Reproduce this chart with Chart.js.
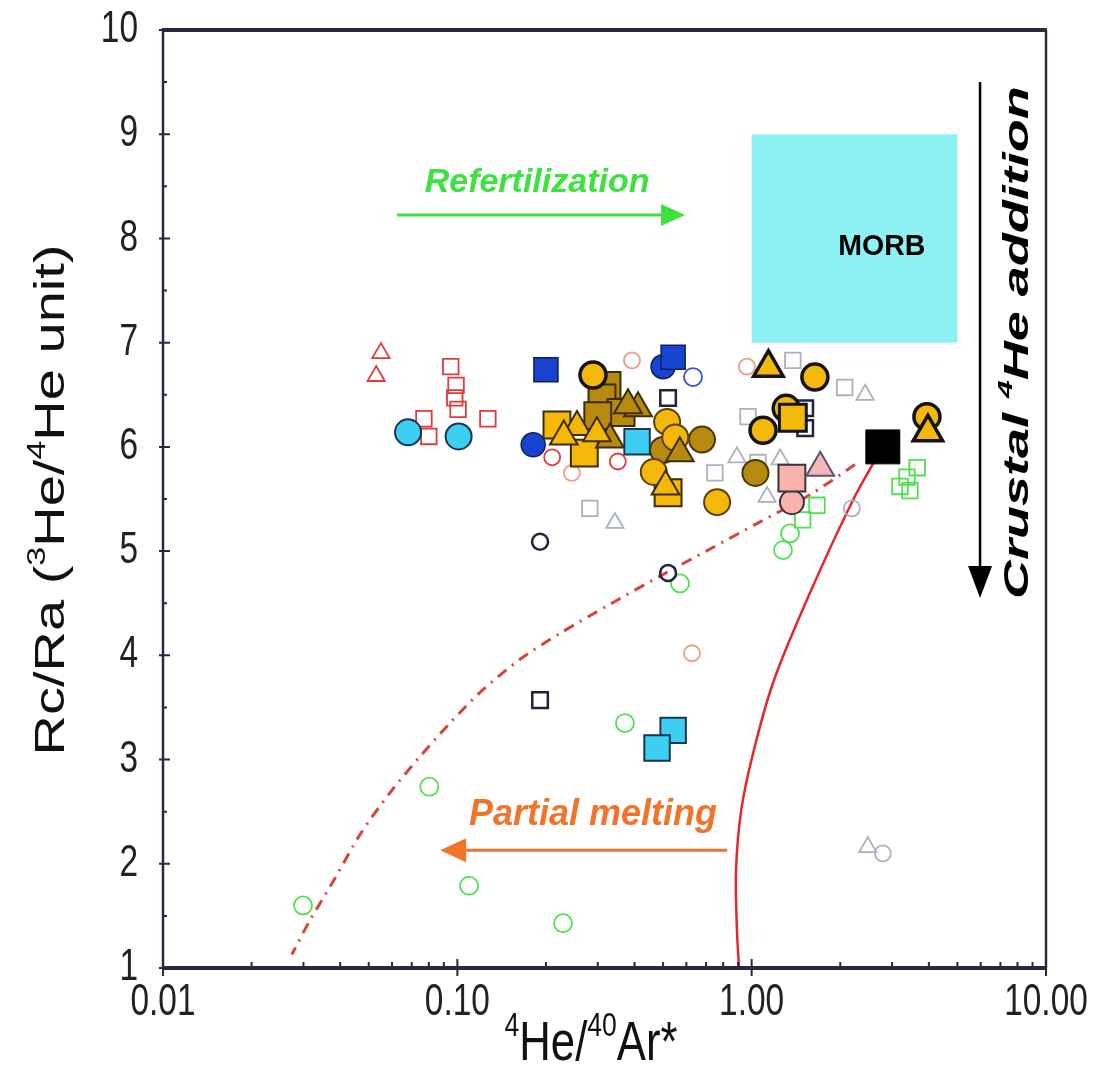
<!DOCTYPE html>
<html>
<head>
<meta charset="utf-8">
<script src="https://cdn.jsdelivr.net/npm/chart.js@4.4.1/dist/chart.umd.min.js"></script>
<style>
  html, body { margin: 0; padding: 0; background: #fff; }
</style>
</head>
<body>
<canvas id="chart" width="1106" height="1078"></canvas>
<script>
// axes
const xTicks = [0.01, 0.1, 1, 10];
const yTicks = [1, 2, 3, 4, 5, 6, 7, 8, 9, 10];

// MORB field: [xMin, xMax, yMin, yMax]
const morbBox = [1, 5, 7, 9];

// samples, [4He/40Ar*, Rc/Ra]
const redTriangles = [[0.055, 6.90], [0.053, 6.68]];
const redSquares = [[0.095, 6.77], [0.099, 6.59], [0.098, 6.47], [0.1006, 6.36], [0.127, 6.27], [0.077, 6.27], [0.080, 6.10]];
const redCircles = [[0.21, 5.90], [0.351, 5.86]];
const salmonCircles = [[0.392, 6.83], [0.245, 5.75], [0.627, 4.02], [0.964, 6.77]];
const greenCircles = [[0.0299, 1.60], [0.0803, 2.74], [0.1096, 1.79], [0.2286, 1.43], [0.371, 3.35], [0.571, 4.69], [1.278, 5.01], [1.35, 5.17]];
const greenSquares = [[1.49, 5.30], [1.667, 5.44], [3.37, 5.71], [3.65, 5.80], [3.19, 5.62], [3.45, 5.58]];
const grayCircles = [[2.19, 5.41], [2.79, 2.10]];
const graySquares = [[0.282, 5.41], [0.972, 6.29], [0.75, 5.75], [1.38, 6.83], [2.07, 6.57], [1.05, 5.85]];
const grayTriangles = [[0.343, 5.27], [2.43, 6.50], [2.48, 2.16], [0.891, 5.90], [1.128, 5.52], [1.25, 5.88]];
const navyCircles = [[0.191, 5.09], [0.52, 4.79]];
const navySquares = [[0.191, 3.57], [0.52, 6.47], [1.52, 6.37], [1.52, 6.18]];
const blueOpenCircles = [[0.632, 6.67]];
const blueCircles = [[0.181, 6.02], [0.50, 6.77]];
const blueSquares = [[0.20, 6.74], [0.541, 6.86]];
const cyanCircles = [[0.068, 6.14], [0.101, 6.10]];
const cyanSquares = [[0.408, 6.05], [0.541, 3.28], [0.477, 3.11]];
const yellowCircles = [[0.516, 6.24], [0.55, 6.09], [0.465, 5.76], [0.763, 5.47]];
const yellowSquares = [[0.218, 6.21], [0.27, 5.94], [0.52, 5.56]];
const yellowTriangles = [[0.255, 6.19], [0.298, 6.13], [0.51, 5.62], [0.23, 6.10]];
const goldCircles = [[0.678, 6.07], [0.50, 5.97], [1.03, 5.75]];
const goldSquares = [[0.3225, 6.59], [0.31, 6.47], [0.36, 6.33], [0.30, 6.30]];
const goldTriangles = [[0.411, 6.37], [0.33, 6.07], [0.57, 5.94], [0.38, 6.40]];
const boldCircles = [[0.289, 6.69], [1.64, 6.67], [1.093, 6.16], [3.94, 6.29], [1.31, 6.37]];
const boldSquares = [[1.38, 6.28]];
const boldTriangles = [[1.14, 6.76], [3.97, 6.14]];
const pinkSquares = [[1.37, 5.70]];
const pinkCircles = [[1.37, 5.47]];
const pinkTriangles = [[1.71, 5.80]];
const endMember = [[2.79, 6.0]];

// model curves
const crustalCurve = [[2.79, 6.0], [2.21, 5.49], [1.54, 4.53], [1.18, 3.73], [1.003, 3.02], [0.920, 2.50], [0.885, 1.94], [0.891, 1.37], [0.906, 1.0]];
const meltingCurve = [[2.244, 5.83], [1.578, 5.54], [1.067, 5.28], [0.722, 5.02], [0.488, 4.76], [0.330, 4.49], [0.223, 4.21],
  [0.163, 3.96], [0.119, 3.64], [0.0944, 3.35], [0.0747, 3.03], [0.059, 2.68], [0.0467, 2.28], [0.0384, 1.86], [0.0316, 1.46], [0.0274, 1.13]];

// arrows and labels, in data units
const referArrow = [0.0624, 0.594, 8.225];
const referLabel = [0.1866, 8.54];
const meltArrow = [0.825, 0.0874, 2.13];
const meltLabel = [0.289, 2.47];
const crustArrow = [5.97, 9.50, 4.55];
const crustLabel = [8.04, 7.0];
const morbLabel = [2.77, 7.92];

const FONT = "'Liberation Sans', Arial, sans-serif";
const pts = arr => arr.map(([x, y]) => ({ x, y }));

function markers(data, style, r, fill, stroke, width) {
  return {
    data: pts(data),
    pointStyle: style,
    pointRadius: r,
    pointBackgroundColor: fill,
    pointBorderColor: stroke,
    pointBorderWidth: width,
    showLine: false
  };
}

const YEL = '#f3b80a', GOLD = '#b8890f', EDGE = '#3d2c06', INK = '#141414';

const datasets = [
  markers(endMember, 'rect', 24, '#000', '#000', 1),
  markers(boldTriangles, 'triangle', 17, YEL, INK, 3.5),
  markers(boldSquares, 'rect', 19, YEL, INK, 3),
  markers(boldCircles, 'circle', 13, YEL, INK, 3.5),
  markers(cyanSquares, 'rect', 18, '#3ccff2', '#1d3550', 2),
  markers(yellowTriangles, 'triangle', 16, YEL, EDGE, 2),
  markers(goldTriangles, 'triangle', 16, GOLD, EDGE, 2),
  markers(yellowCircles, 'circle', 13, YEL, '#5a4210', 2),
  markers(goldCircles, 'circle', 13, GOLD, '#4a3608', 2),
  markers(yellowSquares, 'rect', 19, YEL, EDGE, 2),
  markers(goldSquares, 'rect', 19, GOLD, EDGE, 2),
  markers(blueSquares, 'rect', 17, '#1743d0', '#10205a', 1.5),
  markers(blueCircles, 'circle', 12, '#1743d0', '#10205a', 1.5),
  markers(pinkTriangles, 'triangle', 16, '#f3b9b9', '#605070', 2),
  markers(pinkSquares, 'rect', 19, '#f7b3a9', '#3a3040', 2),
  markers(pinkCircles, 'circle', 12, '#f7b3a9', '#3a3040', 2),
  markers(cyanCircles, 'circle', 13, '#3ccff2', '#1d3550', 2),
  markers(navySquares, 'rect', 11, 'rgba(0,0,0,0)', '#22223c', 2.5),
  markers(navyCircles, 'circle', 8, 'rgba(0,0,0,0)', '#22223c', 2.5),
  markers(blueOpenCircles, 'circle', 9, 'rgba(0,0,0,0)', '#3a50d8', 1.8),
  markers(redSquares, 'rect', 11, 'rgba(0,0,0,0)', '#e23a3a', 1.8),
  markers(redTriangles, 'triangle', 10, 'rgba(0,0,0,0)', '#e23a3a', 1.8),
  markers(redCircles, 'circle', 8, 'rgba(0,0,0,0)', '#e23a3a', 1.8),
  markers(salmonCircles, 'circle', 8, 'rgba(0,0,0,0)', '#ef9c80', 1.8),
  markers(graySquares, 'rect', 11, 'rgba(0,0,0,0)', '#aab2bc', 1.8),
  markers(grayTriangles, 'triangle', 10, 'rgba(0,0,0,0)', '#aab2bc', 1.8),
  markers(grayCircles, 'circle', 8, 'rgba(0,0,0,0)', '#aab2bc', 1.8),
  markers(greenSquares, 'rect', 11, 'rgba(0,0,0,0)', '#4fe04f', 1.8),
  markers(greenCircles, 'circle', 9, 'rgba(0,0,0,0)', '#4fe04f', 1.8),
  {
    data: pts(crustalCurve), showLine: true, pointRadius: 0,
    borderColor: '#e8262a', borderWidth: 2.5, tension: 0.35, fill: false
  },
  {
    data: pts(meltingCurve), showLine: true, pointRadius: 0,
    borderColor: '#d8443a', borderWidth: 3, borderDash: [11, 7, 2, 7], tension: 0.3, fill: false
  }
];

// text with optional superscript parts: [[text, isSup], ...]
function rich(ctx, parts, x, y, o) {
  const size = o.size;
  const fontFor = sup => `${o.style || ''} ${o.weight || ''} ${sup ? Math.round(size * 0.6) : size}px ${FONT}`;
  ctx.save();
  ctx.translate(x, y);
  if (o.rotate) ctx.rotate(o.rotate);
  ctx.scale(o.sx || 1, o.sy || 1);
  let total = 0;
  parts.forEach(p => { ctx.font = fontFor(p[1]); total += ctx.measureText(p[0]).width; });
  let cx = o.align === 'right' ? -total : o.align === 'left' ? 0 : -total / 2;
  ctx.fillStyle = o.color || '#111';
  ctx.textBaseline = 'middle';
  parts.forEach(p => {
    ctx.font = fontFor(p[1]);
    ctx.fillText(p[0], cx, p[1] ? -size * 0.33 : 0);
    cx += ctx.measureText(p[0]).width;
  });
  ctx.restore();
}

function arrow(ctx, x1, y1, x2, y2, color, width, headLen, headW) {
  const a = Math.atan2(y2 - y1, x2 - x1);
  const bx = x2 - Math.cos(a) * headLen, by = y2 - Math.sin(a) * headLen;
  ctx.save();
  ctx.strokeStyle = color;
  ctx.fillStyle = color;
  ctx.lineWidth = width;
  ctx.beginPath();
  ctx.moveTo(x1, y1);
  ctx.lineTo(bx, by);
  ctx.stroke();
  ctx.beginPath();
  ctx.moveTo(x2, y2);
  ctx.lineTo(bx + Math.sin(a) * headW / 2, by - Math.cos(a) * headW / 2);
  ctx.lineTo(bx - Math.sin(a) * headW / 2, by + Math.cos(a) * headW / 2);
  ctx.closePath();
  ctx.fill();
  ctx.restore();
}

const decor = {
  id: 'decor',
  beforeDatasetsDraw(chart) {
    const { ctx, scales: { x, y } } = chart;
    const l = x.getPixelForValue(morbBox[0]), r = x.getPixelForValue(morbBox[1]);
    const t = y.getPixelForValue(morbBox[3]), b = y.getPixelForValue(morbBox[2]);
    ctx.save();
    ctx.fillStyle = '#8ef1f4';
    ctx.fillRect(l, t, r - l, b - t);
    ctx.restore();
    rich(ctx, [['MORB', false]], x.getPixelForValue(morbLabel[0]), y.getPixelForValue(morbLabel[1]),
      { size: 30, weight: 'bold', sx: 0.95, color: '#000' });
  },
  afterDatasetsDraw(chart) {
    const { ctx, chartArea: a, scales: { x, y } } = chart;
    const ink = '#2a2a3c';
    ctx.save();
    ctx.strokeStyle = ink;
    // frame
    ctx.lineWidth = 4;
    ctx.beginPath();
    ctx.moveTo(a.left - 1, a.top); ctx.lineTo(a.right + 1, a.top);
    ctx.moveTo(a.left - 1, a.bottom); ctx.lineTo(a.right + 1, a.bottom);
    ctx.stroke();
    ctx.lineWidth = 2.5;
    ctx.beginPath();
    ctx.moveTo(a.left, a.top); ctx.lineTo(a.left, a.bottom);
    ctx.moveTo(a.right, a.top); ctx.lineTo(a.right, a.bottom);
    ctx.stroke();
    // x ticks, major crossing and minor inward
    ctx.lineWidth = 2;
    ctx.beginPath();
    xTicks.forEach(v => {
      const px = x.getPixelForValue(v);
      ctx.moveTo(px, a.bottom - 9); ctx.lineTo(px, a.bottom + 8);
    });
    xTicks.slice(0, -1).forEach(d => {
      for (let m = 2; m <= 9; m++) {
        const px = x.getPixelForValue(d * m);
        ctx.moveTo(px, a.bottom); ctx.lineTo(px, a.bottom - 6);
      }
    });
    // y ticks
    yTicks.forEach(v => {
      const py = y.getPixelForValue(v);
      ctx.moveTo(a.left - 4, py); ctx.lineTo(a.left + 7, py);
      if (v < 10) {
        const pm = y.getPixelForValue(v + 0.5);
        ctx.moveTo(a.left, pm); ctx.lineTo(a.left + 4, pm);
      }
    });
    ctx.stroke();
    ctx.restore();

    // tick labels
    yTicks.forEach(v => {
      rich(ctx, [[String(v), false]], a.left - 25, y.getPixelForValue(v), { size: 44, sx: 0.76, align: 'right', color: '#222' });
    });
    xTicks.forEach(v => {
      rich(ctx, [[v.toFixed(2), false]], x.getPixelForValue(v), a.bottom + 35, { size: 44, sx: 0.76, color: '#222' });
    });

    // axis titles
    rich(ctx, [['Rc/Ra (', false], ['3', true], ['He/', false], ['4', true], ['He unit)', false]],
      52, 500, { size: 56, rotate: -Math.PI / 2, sy: 0.76, color: '#111' });
    rich(ctx, [['4', true], ['He/', false], ['40', true], ['Ar*', false]],
      591, 1045, { size: 56, sx: 0.78, color: '#111' });

    // process arrows
    const gx1 = x.getPixelForValue(referArrow[0]), gx2 = x.getPixelForValue(referArrow[1]), gy = y.getPixelForValue(referArrow[2]);
    arrow(ctx, gx1, gy, gx2, gy, '#3ee23e', 3, 24, 22);
    rich(ctx, [['Refertilization', false]], x.getPixelForValue(referLabel[0]), y.getPixelForValue(referLabel[1]),
      { size: 34, weight: 'bold', style: 'italic', color: '#3ee23e' });

    const ox1 = x.getPixelForValue(meltArrow[0]), ox2 = x.getPixelForValue(meltArrow[1]), oy = y.getPixelForValue(meltArrow[2]);
    arrow(ctx, ox1, oy, ox2, oy, '#f2742a', 3, 26, 24);
    rich(ctx, [['Partial melting', false]], x.getPixelForValue(meltLabel[0]), y.getPixelForValue(meltLabel[1]),
      { size: 36, weight: 'bold', style: 'italic', color: '#f2742a' });

    const cx = x.getPixelForValue(crustArrow[0]), cy1 = y.getPixelForValue(crustArrow[1]), cy2 = y.getPixelForValue(crustArrow[2]);
    arrow(ctx, cx, cy1, cx, cy2, '#000', 2.5, 32, 24);
    rich(ctx, [['Crustal ', false], ['4', true], ['He addition', false]], x.getPixelForValue(crustLabel[0]), y.getPixelForValue(crustLabel[1]),
      { size: 54, weight: 'bold', style: 'italic', rotate: -Math.PI / 2, sy: 0.64, color: '#000' });
  }
};

new Chart(document.getElementById('chart').getContext('2d'), {
  type: 'scatter',
  data: { datasets },
  options: {
    responsive: false,
    animation: false,
    layout: { padding: { top: 30, right: 60, left: 0, bottom: 0 } },
    plugins: { legend: { display: false }, tooltip: { enabled: false } },
    scales: {
      x: {
        type: 'logarithmic', min: 0.01, max: 10,
        afterBuildTicks: s => { s.ticks = xTicks.map(v => ({ value: v })); },
        afterFit: s => { s.height = 110; },
        grid: { display: false, drawTicks: false },
        border: { display: false },
        ticks: { display: false }
      },
      y: {
        min: 1, max: 10,
        afterBuildTicks: s => { s.ticks = yTicks.map(v => ({ value: v })); },
        afterFit: s => { s.width = 163; },
        grid: { display: false, drawTicks: false },
        border: { display: false },
        ticks: { display: false }
      }
    }
  },
  plugins: [decor]
});
</script>
</body>
</html>
